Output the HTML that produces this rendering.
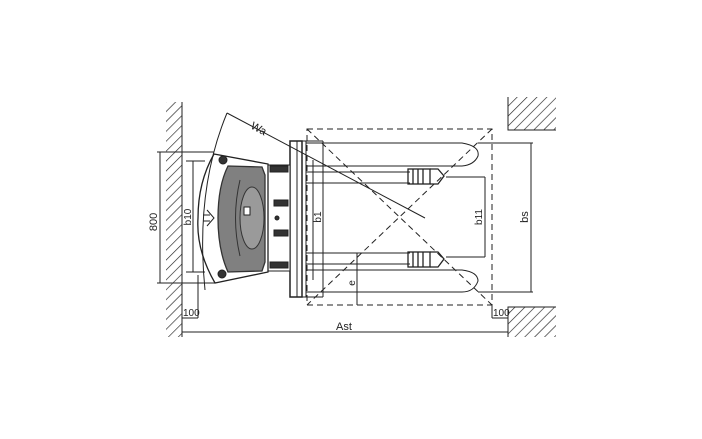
<!DOCTYPE html>
<html><head><meta charset="utf-8"><style>html,body{margin:0;padding:0;background:#fff}svg{display:block}</style></head>
<body>
<svg width="702" height="439" viewBox="0 0 702 439" xmlns="http://www.w3.org/2000/svg" font-family="Liberation Sans, sans-serif">
<defs>
<pattern id="h" width="7" height="7" patternUnits="userSpaceOnUse" patternTransform="rotate(45)">
<line x1="0" y1="0" x2="0" y2="7" stroke="#222" stroke-width="1.3"/>
</pattern>
</defs>
<g stroke="#222" stroke-width="1" fill="none">
<!-- walls -->
<rect x="166" y="102" width="16" height="235" fill="url(#h)" stroke="none"/>
<line x1="182" y1="102" x2="182" y2="337"/>
<rect x="508" y="97" width="48" height="33" fill="url(#h)" stroke="none"/>
<polyline points="508,97 508,130 556,130"/>
<rect x="508" y="307" width="48" height="30" fill="url(#h)" stroke="none"/>
<polyline points="556,307 508,307 508,337"/>
<!-- dashed envelope -->
<g stroke-dasharray="6,4">
<rect x="307" y="129" width="185" height="176"/>
<line x1="307" y1="129" x2="492" y2="305"/>
<line x1="492" y1="129" x2="307" y2="305"/>
</g>
<!-- forks -->
<path d="M306,143 H462 Q480,146 478,156 Q474,165 462,166 H306"/>
<path d="M306,270 H462 Q478,272 478,281 Q474,292 462,292 H306"/>
<line x1="306" y1="183" x2="410" y2="183"/>
<line x1="306" y1="253" x2="410" y2="253"/>
<line x1="306" y1="172" x2="410" y2="172"/>
<line x1="306" y1="264" x2="410" y2="264"/>
<!-- load wheels -->
<g stroke-width="1.3">
<rect x="408" y="169" width="22" height="15"/><line x1="413" y1="169" x2="413" y2="184"/><line x1="418" y1="169" x2="418" y2="184"/><line x1="423" y1="169" x2="423" y2="184"/>
<path d="M430,169 L438,169 L444,176 L438,184 L430,184"/>
<rect x="408" y="252" width="22" height="15"/><line x1="413" y1="252" x2="413" y2="267"/><line x1="418" y1="252" x2="418" y2="267"/><line x1="423" y1="252" x2="423" y2="267"/>
<path d="M430,252 L438,252 L444,259 L438,267 L430,267"/>
</g>
<!-- fork carriage plate -->
<rect x="290" y="141" width="12" height="156" stroke-width="1.5"/>
<line x1="297" y1="141" x2="297" y2="297"/>
<line x1="306" y1="141" x2="306" y2="297"/>
<line x1="313" y1="160" x2="313" y2="280"/>
<line x1="323" y1="141" x2="323" y2="297"/>
<line x1="302" y1="141" x2="323" y2="141"/><line x1="302" y1="297" x2="323" y2="297"/>
<!-- mast -->
<rect x="268" y="165" width="22" height="106" fill="#fff"/>
<rect x="270" y="166" width="18" height="6" fill="#333"/>
<rect x="274" y="200" width="14" height="6" fill="#333"/>
<rect x="274" y="230" width="14" height="6" fill="#333"/>
<rect x="270" y="262" width="18" height="6" fill="#333"/>
<circle cx="277" cy="218" r="2" fill="#333"/>
<!-- tractor body -->
<path d="M214,154 L268,164 L268,272 L215,283 Q196,250 198,218 Q198,182 214,154 Z" fill="#fff" stroke-width="1.3"/>
<path d="M228,166 L262,167 L265,175 L265,262 L262,271 L228,272 Q218,250 218,218 Q218,186 228,166 Z" fill="#808080" stroke="#333" stroke-width="1.3"/>
<ellipse cx="252" cy="218" rx="12" ry="31" fill="#9a9a9a" stroke="#333"/>
<path d="M240,180 Q231,218 240,256" stroke="#333"/>
<rect x="244" y="207" width="6" height="8" fill="#fff"/>
<circle cx="223" cy="160" r="4" fill="#333"/><circle cx="222" cy="274" r="4" fill="#333"/>
<path d="M207,210 L214,218 L207,226" />
<line x1="203" y1="215" x2="210" y2="215"/><line x1="203" y1="221" x2="210" y2="221"/>
<!-- turning arc and Wa -->
<path d="M227,113 Q195,190 205,290"/>
<line x1="227" y1="113" x2="425" y2="218"/>
<!-- dimensions -->
<line x1="157" y1="152" x2="214" y2="152"/><line x1="157" y1="283" x2="215" y2="283"/>
<line x1="160" y1="152" x2="160" y2="283"/>
<line x1="186" y1="161" x2="205" y2="161"/><line x1="186" y1="272" x2="205" y2="272"/>
<line x1="193" y1="161" x2="193" y2="272"/>
<line x1="198" y1="275" x2="198" y2="318"/>
<line x1="182" y1="318" x2="198" y2="318"/>
<line x1="182" y1="332" x2="508" y2="332"/>
<line x1="492" y1="305" x2="492" y2="318"/>
<line x1="492" y1="318" x2="508" y2="318"/>
<line x1="446" y1="177" x2="485" y2="177"/><line x1="446" y1="257" x2="485" y2="257"/>
<line x1="485" y1="177" x2="485" y2="257"/>
<line x1="478" y1="143" x2="533" y2="143"/><line x1="478" y1="292" x2="533" y2="292"/>
<line x1="531" y1="143" x2="531" y2="292"/>
<line x1="357" y1="253" x2="357" y2="305"/>
</g>
<g fill="#222" font-size="11">
<text x="0" y="0" transform="translate(157,222) rotate(-90)" text-anchor="middle">800</text>
<text x="0" y="0" transform="translate(191,217) rotate(-90)" text-anchor="middle" font-size="10">b10</text>
<text x="0" y="0" transform="translate(321,217) rotate(-90)" text-anchor="middle" font-size="10">b1</text>
<text x="0" y="0" transform="translate(482,217) rotate(-90)" text-anchor="middle" font-size="10">b11</text>
<text x="0" y="0" transform="translate(528,217) rotate(-90)" text-anchor="middle">bs</text>
<text x="0" y="0" transform="translate(355,283) rotate(-90)" text-anchor="middle" font-size="10">e</text>
<text x="0" y="0" transform="translate(250,128) rotate(28)" font-size="11">Wa</text>
<text x="183" y="316" font-size="10">100</text>
<text x="493" y="316" font-size="10">100</text>
<text x="336" y="330">Ast</text>
</g>
</svg>
</body></html>
